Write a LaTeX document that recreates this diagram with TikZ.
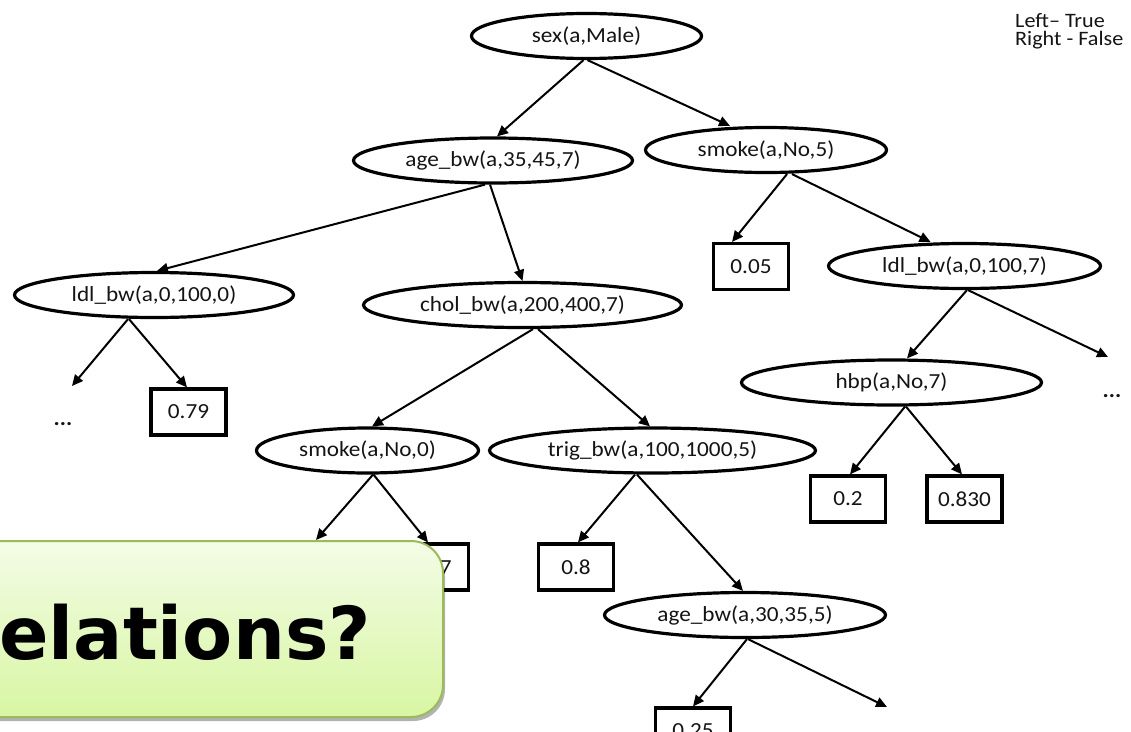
\documentclass[tikz,border=0pt]{standalone}
\usepackage{fontspec}
\setmainfont{Carlito}[FakeStretch=1.08]
\newfontfamily\calloutfont{DejaVu Sans}
\usetikzlibrary{arrows.meta,shapes.geometric,shadows}
\definecolor{calloutedge}{HTML}{9BBB59}
\definecolor{callouttop}{HTML}{F3FCE6}
\definecolor{calloutbot}{HTML}{D8F6A2}
\definecolor{ink}{HTML}{141414}

\begin{document}
\begin{tikzpicture}[x=1pt,y=-1pt,
  test/.style={ellipse,draw,line width=3.2pt,minimum height=45pt,inner sep=0pt,
    font=\fontsize{21.5}{26}\selectfont,text=ink},
  leaf/.style={rectangle,draw,line width=3.2pt,minimum width=75pt,minimum height=46pt,
    inner sep=0pt,font=\fontsize{21.5}{26}\selectfont,text=ink},
  branch/.style={line width=2pt,-{Triangle[length=11pt,width=10pt]}},
  more/.style={font=\fontsize{21.5}{26}\selectfont\bfseries,inner sep=0pt,text=ink},
  legendtext/.style={anchor=base west,inner sep=0pt,align=left,
    font=\fontsize{20.5}{18}\selectfont,text=ink}
]
\clip (0,0) rectangle (1131,731);

% decision nodes
\node[test,minimum width=230pt] (sex)    at (586.5,36)  {sex(a,Male)};
\node[test,minimum width=279pt] (age)    at (493,160.5) {age\_bw(a,35,45,7)};
\node[test,minimum width=241pt] (smk5)   at (766,150)   {smoke(a,No,5)};
\node[test,minimum width=279pt] (ldl0)   at (154,295)   {ldl\_bw(a,0,100,0)};
\node[test,minimum width=318pt] (chol)   at (522.5,305) {chol\_bw(a,200,400,7)};
\node[test,minimum width=272pt] (ldl7)   at (964.5,266) {ldl\_bw(a,0,100,7)};
\node[test,minimum width=300pt] (hbp)    at (891.5,382.5) {hbp(a,No,7)};
\node[test,minimum width=222pt] (smk0)   at (367.5,450.5) {smoke(a,No,0)};
\node[test,minimum width=326pt] (trig)   at (652.5,450.5) {trig\_bw(a,100,1000,5)};
\node[test,minimum width=281pt] (age30)  at (745,615)   {age\_bw(a,30,35,5)};

% leaves
\node[leaf] (p005) at (751,266.5) {0.05};
\node[leaf] (p079) at (188.5,412) {0.79};
\node[leaf] (p02)  at (848,499)   {0.2};
\node[leaf] (p083) at (964.5,499) {0.830};
\node[leaf] (p7)   at (431,567)   {\phantom{0.8}7};
\node[leaf] (p08)  at (576,567)   {0.8};
\node[leaf] (p025) at (693,731)   {0.25};

% unexpanded subtrees
\node[more] (dotsL) at (63,424)   {...};
\node[more] (dotsR) at (1112,396) {...};
\coordinate (endL)  at (72,386);
\coordinate (endR)  at (1108,357);
\coordinate (endS)  at (316,540);
\coordinate (endA)  at (887,707);

% branches
\draw[branch] ([xshift=-3pt]sex.south)    -- ([xshift=4pt]age.north);
\draw[branch] ([xshift=1pt]sex.south)     -- ([xshift=-36pt]smk5.north);
\draw[branch] ([xshift=-8pt]age.south)    -- ([xshift=3pt]ldl0.north);
\draw[branch] ([xshift=-3pt]age.south)    -- (chol.north);
\draw[branch] ([xshift=21pt]smk5.south)   -- ([xshift=-19pt]p005.north);
\draw[branch] ([xshift=26pt]smk5.south)   -- ([xshift=-34pt]ldl7.north);
\draw[branch] ([xshift=-26pt]ldl0.south)  -- (endL);
\draw[branch] ([xshift=-25pt]ldl0.south)  -- ([xshift=-1.5pt]p079.north);
\draw[branch] ([xshift=2.5pt]ldl7.south)  -- ([xshift=15.5pt]hbp.north);
\draw[branch] ([xshift=3.5pt]ldl7.south)  -- (endR);
\draw[branch] ([xshift=10.5pt]chol.south) -- ([xshift=4.5pt]smk0.north);
\draw[branch] ([xshift=15.5pt]chol.south) -- ([xshift=-2.5pt]trig.north);
\draw[branch] ([xshift=13.5pt]hbp.south)  -- ([xshift=2pt]p02.north);
\draw[branch] ([xshift=14.5pt]hbp.south)  -- ([xshift=-2.5pt]p083.north);
\draw[branch] ([xshift=5.5pt]smk0.south)  -- (endS);
\draw[branch] ([xshift=6pt]smk0.south)    -- ([xshift=-3pt]p7.north);
\draw[branch] ([xshift=-17.5pt]trig.south) -- ([xshift=2pt]p08.north);
\draw[branch] ([xshift=-15.5pt]trig.south) -- ([xshift=-2pt]age30.north);
\draw[branch] ([xshift=2pt]age30.south)   -- (p025.north);
\draw[branch] ([xshift=3pt]age30.south)   -- (endA);

% legend (base anchor sits on the last line)
\node[legendtext] (legend) at (1015,45) {Left– True\\Right - False};

% overlaid callout
\draw[line width=2pt,draw=calloutedge,rounded corners=32pt,
      top color=callouttop,bottom color=calloutbot,
      drop shadow={shadow xshift=2pt,shadow yshift=-4pt,fill=black,opacity=0.3}]
  (-40,541) rectangle (443,717);
\node[anchor=base west,inner sep=0pt,text=black,
      font=\calloutfont\bfseries\fontsize{73}{80}\selectfont] (question) at (-1,659) {elations?};
\end{tikzpicture}
\end{document}
